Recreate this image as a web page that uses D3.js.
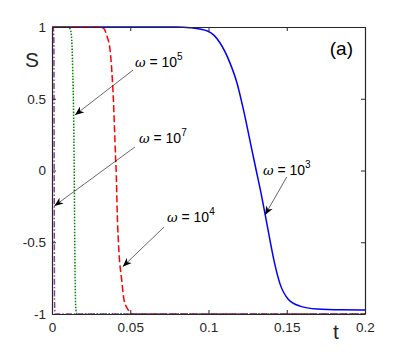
<!DOCTYPE html>
<html>
<head>
<meta charset="utf-8">
<script src="https://cdn.jsdelivr.net/npm/d3@7"></script>
<style>
	body { margin: 0; background: #fff; }
	svg { display: block; font-family: "Liberation Sans", Arial, sans-serif; }
</style>
</head>
<body>
<svg id="chart"></svg>
<script>
// S(t) for several omega values
var tW3 = [0, 0.08, 0.0882, 0.0997, 0.1073, 0.1137, 0.1182, 0.122, 0.1278, 0.1305, 0.1336, 0.1361, 0.139, 0.1419, 0.1457, 0.1508, 0.1585, 0.1693, 0.185, 0.2];
var sW3 = [1, 1, 0.995, 0.97, 0.89, 0.75, 0.61, 0.44, 0.14, 0, -0.16, -0.3, -0.47, -0.63, -0.79, -0.895, -0.945, -0.965, -0.971, -0.972];

var tW4 = [0, 0.030, 0.0330, 0.0353, 0.0371, 0.0392, 0.0406, 0.0410, 0.0417, 0.0428, 0.0445, 0.046, 0.0486, 0.0510, 0.2];
var sW4 = [1, 1, 0.99, 0.93, 0.84, 0.5, 0.1, 0, -0.3, -0.57, -0.76, -0.9, -0.97, -1, -1];

var tW5 = [0, 0.0105, 0.0118, 0.0126, 0.0132, 0.0138, 0.0142, 0.0147, 0.0153, 0.0160, 0.0166, 0.2];
var sW5 = [1, 1, 0.98, 0.91, 0.72, 0.4, 0, -0.69, -0.97, -1, -1, -1];

var tW7 = [0, 0.0008, 0.0012, 0.0014, 0.0016, 0.0020, 0.2];
var sW7 = [1, 1, 0.9, 0, -0.9, -1, -1];

var xTicks = [0, 0.05, 0.1, 0.15, 0.2];
var xTickLabels = ['0', '0.05', '0.1', '0.15', '0.2'];
var yTicks = [-1, -0.5, 0, 0.5, 1];
var yTickLabels = ['-1', '-0.5', '0', '0.5', '1'];

var exponents = ['3', '4', '5', '7'];

function pairs(ts, ss) {
	return ts.map(function(t, i) { return {t: t, s: ss[i]}; });
}

var series = [
	{data: pairs(tW3, sW3), color: '#0000ff', dash: null},
	{data: pairs(tW4, sW4), color: '#ff0000', dash: '7,3'},
	{data: pairs(tW5, sW5), color: '#008000', dash: '1.5,1.5'},
	{data: pairs(tW7, sW7), color: '#8e3fa6', dash: '6,2,1.5,2'}
];

// label anchor and arrow (from -> tip), in data units
var notes = [
	{exp: exponents[0], tx: 0.1348, ty: -0.031, x0: 0.150, y0: -0.045, x1: 0.1361, y1: -0.31},
	{exp: exponents[1], tx: 0.0735, ty: -0.359, x0: 0.0716, y0: -0.394, x1: 0.0452, y1: -0.67},
	{exp: exponents[2], tx: 0.0530, ty: 0.721, x0: 0.0518, y0: 0.70, x1: 0.0147, y1: 0.387},
	{exp: exponents[3], tx: 0.0556, ty: 0.192, x0: 0.053, y0: 0.164, x1: 0.0015, y1: -0.247}
];

var W = 403, H = 353;
var margin = {top: 27, right: 38, bottom: 39, left: 52};
var width = W - margin.left - margin.right;
var height = H - margin.top - margin.bottom;

var root = d3.select('#chart').attr('width', W).attr('height', H);

root.append('defs').append('marker')
	.attr('id', 'arrow')
	.attr('viewBox', '0 0 10 10')
	.attr('refX', 10).attr('refY', 5)
	.attr('markerWidth', 9).attr('markerHeight', 9)
	.attr('markerUnits', 'userSpaceOnUse')
	.attr('orient', 'auto')
	.append('path')
		.attr('d', 'M0,1 L10,5 L0,9 L3,5 Z')
		.attr('fill', '#000');

var svg = root.append('g')
	.attr('transform', 'translate(' + margin.left + ',' + margin.top + ')');

var x = d3.scaleLinear().domain([0, 0.2]).range([0, width]);
var y = d3.scaleLinear().domain([-1, 1]).range([height, 0]);

var line = d3.line()
	.x(function(d) { return x(d.t); })
	.y(function(d) { return y(d.s); })
	.curve(d3.curveMonotoneX);

svg.append('clipPath').attr('id', 'clip')
	.append('rect').attr('x', -1).attr('y', -1).attr('width', width + 2).attr('height', height + 2);

var plot = svg.append('g').attr('clip-path', 'url(#clip)');
series.forEach(function(sr) {
	plot.append('path')
		.datum(sr.data)
		.attr('d', line)
		.attr('fill', 'none')
		.attr('stroke', sr.color)
		.attr('stroke-width', 1.5)
		.attr('stroke-dasharray', sr.dash);
});

// axes, MATLAB-style inward ticks on all four sides
function styleAxis(g) {
	g.select('.domain').attr('stroke', '#262626').attr('stroke-width', 1.2);
	g.selectAll('.tick line').attr('stroke', '#262626');
	g.selectAll('.tick text').attr('fill', '#262626').attr('font-size', 13.5);
}

svg.append('g')
	.attr('transform', 'translate(0,' + height + ')')
	.call(d3.axisBottom(x).tickValues(xTicks).tickSizeInner(-4).tickSizeOuter(0).tickPadding(8)
		.tickFormat(function(d, i) { return xTickLabels[i]; }))
	.call(styleAxis);

svg.append('g')
	.call(d3.axisTop(x).tickValues(xTicks).tickSizeInner(-4).tickSizeOuter(0).tickFormat(''))
	.call(styleAxis);

svg.append('g')
	.call(d3.axisLeft(y).tickValues(yTicks).tickSizeInner(-4).tickSizeOuter(0).tickPadding(6)
		.tickFormat(function(d, i) { return yTickLabels[i]; }))
	.call(styleAxis);

svg.append('g')
	.attr('transform', 'translate(' + width + ',0)')
	.call(d3.axisRight(y).tickValues(yTicks).tickSizeInner(-4).tickSizeOuter(0).tickFormat(''))
	.call(styleAxis);

// annotations
notes.forEach(function(n) {
	svg.append('line')
		.attr('x1', x(n.x0)).attr('y1', y(n.y0))
		.attr('x2', x(n.x1)).attr('y2', y(n.y1))
		.attr('stroke', '#000')
		.attr('stroke-width', 0.6)
		.attr('marker-end', 'url(#arrow)');

	var txt = svg.append('text')
		.attr('x', x(n.tx)).attr('y', y(n.ty))
		.attr('font-size', 14)
		.attr('fill', '#000');
	txt.append('tspan').attr('font-style', 'italic').attr('font-family', '"DejaVu Serif", serif').attr('font-size', 13).text('ω');
	txt.append('tspan').text(' = 10');
	txt.append('tspan').attr('font-size', 10).attr('dy', -7).text(n.exp);
});

svg.append('text')
	.attr('x', width - 12).attr('y', 28)
	.attr('text-anchor', 'end')
	.attr('font-size', 19)
	.attr('fill', '#000')
	.text('(a)');

svg.append('text')
	.attr('x', -27).attr('y', 40)
	.attr('font-size', 21)
	.attr('fill', '#262626')
	.text('S');

svg.append('text')
	.attr('x', 281).attr('y', height + 25)
	.attr('font-size', 21)
	.attr('fill', '#262626')
	.text('t');
</script>
</body>
</html>
